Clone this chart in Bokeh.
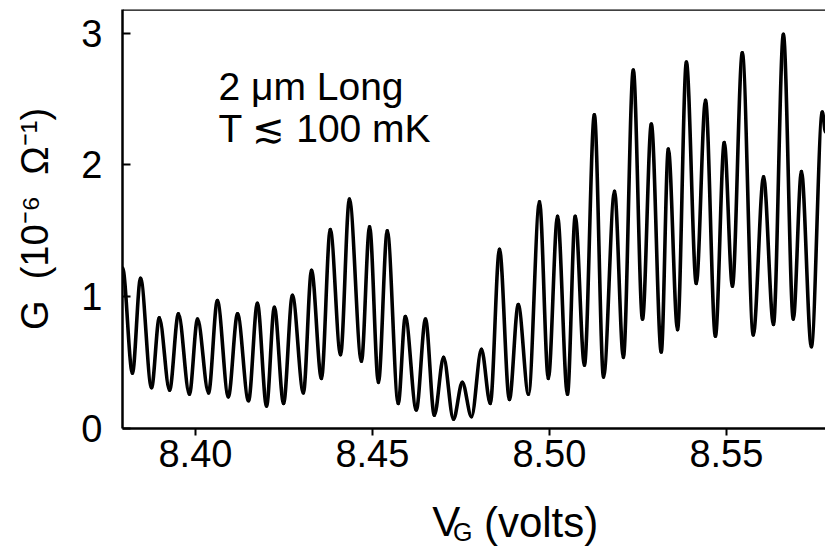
from bokeh.plotting import figure
from bokeh.layouts import column
from bokeh.models import FixedTicker, Span, Range1d, PrintfTickFormatter, Label
from bokeh.core.properties import value
from bokeh.embed import file_html
from bokeh.resources import INLINE

# Gate voltage (V) at the successive maxima / minima of the trace
vg = [8.3794, 8.3822, 8.3845, 8.3876, 8.3898, 8.3927, 8.3952, 8.3983,
      8.4006, 8.4037, 8.4062, 8.4093, 8.4119, 8.4150, 8.4175, 8.4201,
      8.4223, 8.4249, 8.4274, 8.4305, 8.4328, 8.4356, 8.4381, 8.4410,
      8.4435, 8.4469, 8.4492, 8.4517, 8.4542, 8.4573, 8.4593, 8.4624,
      8.4650, 8.4675, 8.4701, 8.4729, 8.4754, 8.4780, 8.4808, 8.4833,
      8.4859, 8.4887, 8.4912, 8.4941, 8.4972, 8.4997, 8.5023, 8.5051,
      8.5073, 8.5099, 8.5127, 8.5153, 8.5184, 8.5209, 8.5237, 8.5263,
      8.5288, 8.5316, 8.5336, 8.5362, 8.5387, 8.5415, 8.5441, 8.5469,
      8.5494, 8.5517, 8.5545, 8.5576, 8.5605, 8.5633, 8.5661, 8.5689,
      8.5712, 8.5740, 8.5771, 8.5780]
# Conductance G (10^-6 ohm^-1)
g = [1.22, 0.42, 1.14, 0.31, 0.84, 0.29, 0.87, 0.26,
     0.83, 0.27, 0.97, 0.24, 0.87, 0.21, 0.95, 0.17,
     0.92, 0.19, 1.01, 0.27, 1.20, 0.38, 1.51, 0.56,
     1.74, 0.51, 1.53, 0.35, 1.50, 0.19, 0.85, 0.14,
     0.83, 0.10, 0.54, 0.07, 0.35, 0.09, 0.60, 0.19,
     1.36, 0.22, 0.94, 0.26, 1.72, 0.38, 1.61, 0.26,
     1.61, 0.48, 2.38, 0.39, 1.80, 0.54, 2.72, 0.83,
     2.31, 0.58, 2.12, 0.75, 2.78, 1.10, 2.49, 0.70,
     2.17, 1.08, 2.85, 0.71, 1.91, 0.79, 2.99, 0.83,
     1.95, 0.62, 2.40, 2.25]

x_ticks = [8.40, 8.45, 8.50, 8.55]
y_ticks = [0, 1, 2, 3]

FONT = "Liberation Sans"
X0, X1 = 8.3794, 8.5780
Y0, Y1 = 0.0, 3.179

p = figure(width=825, height=490, output_backend="svg", toolbar_location=None,
           x_range=Range1d(X0, X1), y_range=Range1d(Y0, Y1),
           min_border_left=122, min_border_right=0, min_border_top=9,
           min_border_bottom=62)
p.background_fill_color = "white"
p.border_fill_color = "white"
p.outline_line_color = None
p.xgrid.visible = False
p.ygrid.visible = False

# smooth trace: each stretch between successive extrema drawn as a cubic
# Bezier with horizontal tangents at the extrema
x0s, y0s, x1s, y1s, cx0, cy0, cx1, cy1 = [], [], [], [], [], [], [], []
for i in range(len(vg) - 1):
    a, b = vg[i], vg[i + 1]
    d = (b - a) / 3.0
    x0s.append(a); y0s.append(g[i]); x1s.append(b); y1s.append(g[i + 1])
    cx0.append(a + d); cy0.append(g[i]); cx1.append(b - d); cy1.append(g[i + 1])
p.bezier(x0=x0s, y0=y0s, x1=x1s, y1=y1s, cx0=cx0, cy0=cy0, cx1=cx1, cy1=cy1,
         line_color="black", line_width=3.6, line_cap="round")

# top frame line
p.add_layout(Span(location=Y1, dimension="width", line_color="black", line_width=2.5))

for ax in (p.xaxis[0], p.yaxis[0]):
    ax.axis_line_width = 2.5
    ax.axis_line_color = "black"
    ax.major_tick_line_width = 2
    ax.major_tick_line_color = "black"
    ax.minor_tick_line_color = None
    ax.major_label_text_font = FONT
    ax.major_label_text_font_size = "38px"
    ax.major_label_text_color = "black"

p.xaxis.ticker = FixedTicker(ticks=x_ticks)
p.xaxis.formatter = PrintfTickFormatter(format="%.2f")
p.xaxis.major_tick_in = 0
p.xaxis.major_tick_out = 7
p.xaxis.major_label_standoff = 4

p.yaxis.ticker = FixedTicker(ticks=y_ticks)
p.yaxis.formatter = PrintfTickFormatter(format="%d")
p.yaxis.major_tick_in = 8
p.yaxis.major_tick_out = 0
p.yaxis.major_label_standoff = 20
p.yaxis.axis_label = "G\u00a0\u00a0(10\u207b\u2076\u00a0\u00a0\u03a9\u207b\u00b9)"
p.yaxis.axis_label_text_font = FONT
p.yaxis.axis_label_text_font_size = "38px"
p.yaxis.axis_label_text_font_style = "normal"
p.yaxis.axis_label_text_color = "black"
p.yaxis.axis_label_standoff = 22

# annotation
for txt, yy in (("2 \u03bcm Long", 2.595), ("T \u2272 100 mK", 2.276)):
    p.add_layout(Label(x=8.4065, y=yy, text=txt, text_font=FONT,
                       text_font_size="39px", text_color="black",
                       text_baseline="alphabetic"))

# x-axis title row: V_G (volts)
p2 = figure(width=825, height=56, output_backend="svg", toolbar_location=None,
            x_range=p.x_range, y_range=Range1d(0, 56),
            x_axis_location=None, y_axis_location=None,
            min_border_left=122, min_border_right=0, min_border_top=0,
            min_border_bottom=0)
p2.outline_line_color = None
p2.xgrid.visible = False
p2.ygrid.visible = False
p2.text(x=[8.4669], y=[25], text=["V"], text_font=value(FONT),
        text_font_size="42px", text_color="black", text_baseline="middle")
p2.text(x=[8.4728], y=[15], text=["G"], text_font=value(FONT),
        text_font_size="25px", text_color="black", text_baseline="middle")
p2.text(x=[8.4815], y=[24], text=["(volts)"], text_font=value(FONT),
        text_font_size="42px", text_color="black", text_baseline="middle")

layout = column(p, p2, spacing=0)
open("out.html", "w").write(file_html(layout, INLINE))
